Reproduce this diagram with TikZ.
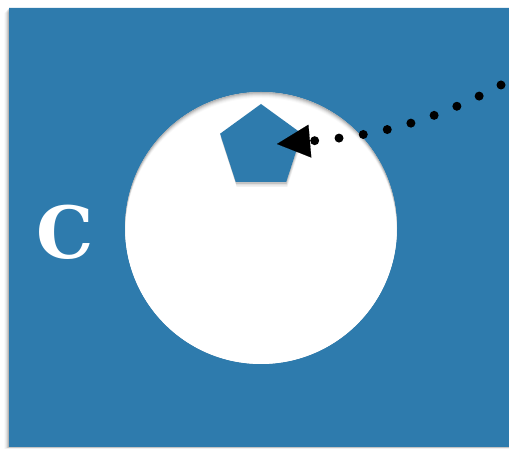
\documentclass[tikz,border=0pt]{standalone}
\usepackage{fontspec}
\newfontfamily\slabfont{DejaVu Serif}
\usetikzlibrary{shapes.geometric, arrows.meta, shadows}
\definecolor{paper}{RGB}{46,123,173}
\begin{document}
\begin{tikzpicture}[x=1pt,y=1pt,
  sheet/.style={fill=paper},
  dotline/.style={draw=black, line width=9pt, line cap=round, dash pattern=on 0pt off 24.5pt},
  pentshape/.style={regular polygon, regular polygon sides=5, minimum size=86pt, inner sep=0pt, fill=paper,
    general shadow={fill=black, opacity=0.05, shadow yshift=-5pt, shadow xshift=1pt},
    general shadow={fill=black, opacity=0.08, shadow yshift=-3.5pt, shadow xshift=0.7pt},
    general shadow={fill=black, opacity=0.12, shadow yshift=-2pt, shadow xshift=0.3pt}},
  letter/.style={text=white, inner sep=0pt, font=\slabfont\bfseries\fontsize{72}{72}\selectfont}
]
\useasboundingbox (0,0) rectangle (509,449);
\coordinate (hole) at (261,221);
% sheet shadow
\foreach \i/\o in {1/0.12,2/0.09,3/0.06,4/0.04,5/0.02}
  \fill[black, opacity=\o, even odd rule] (9-\i,2-0.4*\i) rectangle (509,441-\i) (hole) circle (136);
% blue sheet with a round hole
\fill[sheet, even odd rule] (9,2) rectangle (509,441) (hole) circle (136);
\fill[white] (hole) circle (136);
% inner shadow of the hole
\begin{scope}
  \clip (hole) circle (136);
  \foreach \i/\o in {1/0.10,2/0.08,3/0.06,4/0.045,5/0.03,6/0.02}
    \fill[black, opacity=\o, even odd rule] (100,60) rectangle (420,380) ([yshift=-\i pt]hole) circle (136);
\end{scope}
\node[letter] (c) at (65.5,217) {C};
\node[pentshape] (pent) at (261,302) {};
\coordinate (src) at (501,364);
\coordinate (tip) at (277,305);
\draw[dotline, -{Triangle[length=33pt,width=33pt,line width=0.1pt]}] (src) to[out=208,in=5] (tip);
\end{tikzpicture}
\end{document}
